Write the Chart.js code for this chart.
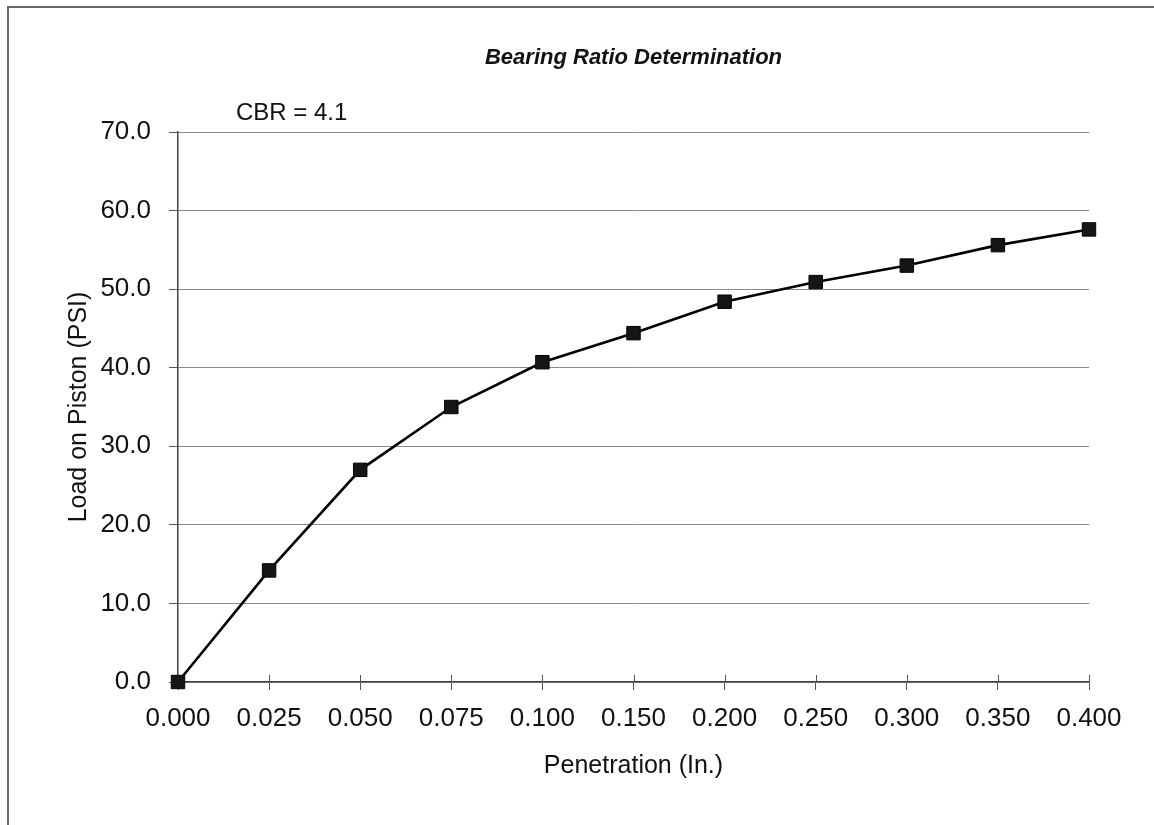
<!DOCTYPE html>
<html>
<head>
<meta charset="utf-8">
<script src="https://cdn.jsdelivr.net/npm/chart.js@4"></script>
<style>
html,body{margin:0;padding:0;background:#fff;}
#wrap{position:relative;width:1154px;height:825px;overflow:hidden;}
canvas{position:absolute;left:0;top:0;}
#frame{position:absolute;left:7px;top:6px;width:1160px;height:830px;border-left:2px solid #666;border-top:2px solid #666;pointer-events:none;}
</style>
</head>
<body>
<div id="wrap"><canvas id="c" width="1154" height="825"></canvas><div id="frame"></div></div>
<script>
// ---- data ----
const penetrationLabels = ['0.000','0.025','0.050','0.075','0.100','0.150','0.200','0.250','0.300','0.350','0.400'];
const loadOnPiston = [0.0, 14.2, 27.0, 35.0, 40.7, 44.4, 48.4, 50.9, 53.0, 55.6, 57.6];
const yMin = 0;
const yMax = 70;
const yStep = 10;
const chartTitle = 'Bearing Ratio Determination';
const cbrNote = 'CBR = 4.1';
const xAxisTitle = 'Penetration (In.)';
const yAxisTitle = 'Load on Piston (PSI)';

const FAMILY = '"Liberation Sans", Arial, Helvetica, sans-serif';
const PAD_LEFT = 10, PAD_BOTTOM = 0;

const extras = {
  id: 'extras',
  beforeDatasetsDraw(chart) {
    const ctx = chart.ctx, xs = chart.scales.x, area = chart.chartArea;
    ctx.save();
    ctx.strokeStyle = '#555';
    ctx.lineWidth = 1;
    for (let i = 0; i < xs.ticks.length; i++) {
      const px = Math.round(xs.getPixelForTick(i)) + 0.5;
      ctx.beginPath();
      ctx.moveTo(px, area.bottom - 7);
      ctx.lineTo(px, area.bottom);
      ctx.stroke();
    }
    ctx.restore();
  },
  afterDraw(chart) {
    const ctx = chart.ctx, area = chart.chartArea;
    ctx.save();
    ctx.fillStyle = '#111';
    // chart title, centred over the plot area
    ctx.font = 'italic bold 22px ' + FAMILY;
    ctx.textBaseline = 'middle';
    ctx.textAlign = 'center';
    ctx.fillText(chartTitle, (area.left + area.right) / 2, 58);
    // CBR note
    ctx.font = '24px ' + FAMILY;
    ctx.textAlign = 'left';
    ctx.textBaseline = 'alphabetic';
    ctx.fillText(cbrNote, area.left + 58, area.top - 12);
    ctx.restore();
  }
};

new Chart(document.getElementById('c'), {
  type: 'line',
  data: {
    labels: penetrationLabels,
    datasets: [{
      data: loadOnPiston,
      borderColor: '#000',
      borderWidth: 2.6,
      backgroundColor: '#111',
      pointStyle: 'rect',
      pointRadius: 9.5,
      pointBorderColor: '#000',
      pointBorderWidth: 1,
      pointBackgroundColor: '#151515',
      tension: 0,
      fill: false,
      clip: false
    }]
  },
  options: {
    responsive: false,
    animation: false,
    devicePixelRatio: 1,
    layout: { padding: { left: PAD_LEFT, right: 65, top: 132, bottom: PAD_BOTTOM } },
    plugins: {
      legend: { display: false },
      tooltip: { enabled: false },
      title: { display: false }
    },
    scales: {
      x: {
        type: 'category',
        offset: false,
        grid: { display: true, drawOnChartArea: false, drawTicks: true, tickLength: 8, color: '#555', lineWidth: 1 },
        border: { display: true, color: '#444', width: 1.5 },
        ticks: { color: '#111', font: { family: FAMILY, size: 26 }, padding: 13, maxRotation: 0, autoSkip: false },
        title: { display: true, text: xAxisTitle, color: '#111', font: { family: FAMILY, size: 25 }, padding: { top: 0, bottom: 44 } },
        afterFit(s) { s.height = 825 - 682 - PAD_BOTTOM; }
      },
      y: {
        min: yMin,
        max: yMax,
        grid: { color: '#8a8a8a', lineWidth: 1, tickLength: 9, drawTicks: true, tickColor: '#555' },
        border: { display: true, color: '#444', width: 1.5 },
        ticks: { stepSize: yStep, color: '#111', font: { family: FAMILY, size: 26 }, padding: 18, callback: v => Number(v).toFixed(1) },
        title: { display: true, text: yAxisTitle, color: '#111', font: { family: FAMILY, size: 25 }, padding: { top: 54, bottom: 0 } },
        afterFit(s) { s.width = 178 - PAD_LEFT; }
      }
    }
  },
  plugins: [extras]
});
</script>
</body>
</html>
